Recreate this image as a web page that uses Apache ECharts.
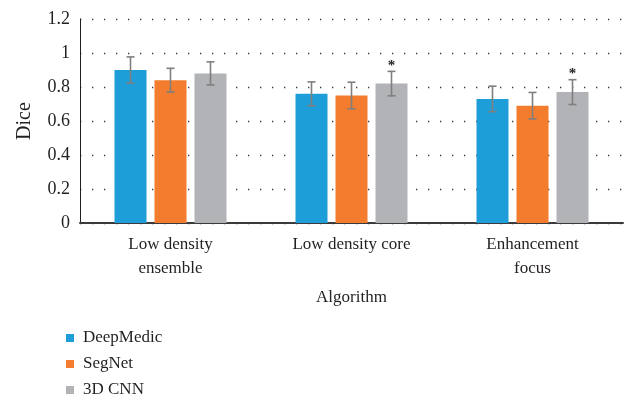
<!DOCTYPE html>
<html>
<head>
<meta charset="utf-8">
<script src="https://cdn.jsdelivr.net/npm/echarts@6/dist/echarts.min.js"></script>
<style>
  html, body { margin: 0; padding: 0; background: #fff; }
  #chart { width: 631px; height: 398px; }
</style>
</head>
<body>
<div id="chart"></div>
<script>
// Dice scores per region for each segmentation network
const categories = ['Low density\nensemble', 'Low density core', 'Enhancement\nfocus'];
const seriesNames = ['DeepMedic', 'SegNet', '3D CNN'];
const deepMedic = [0.90, 0.76, 0.73];
const segNet = [0.84, 0.75, 0.69];
const cnn3d = [0.88, 0.82, 0.77];
// standard deviations (error bar half-lengths)
const deepMedicSd = [0.077, 0.07, 0.075];
const segNetSd = [0.07, 0.078, 0.078];
const cnn3dSd = [0.068, 0.072, 0.073];
// significance markers drawn above the 3D CNN error bars
const cnn3dSig = ['', '*', '*'];
const yTicks = [0, 0.2, 0.4, 0.6, 0.8, 1, 1.2];

const colors = ['#1e9ed8', '#f37c2e', '#b2b3b6'];
const FONT = '"Liberation Serif", "DejaVu Serif", serif';
const TEXT = '#231f20';
const BAR_W = 32;
const BAR_GAP = 8;

const values = [deepMedic, segNet, cnn3d];
const sds = [deepMedicSd, segNetSd, cnn3dSd];

const chart = echarts.init(document.getElementById('chart'));

const barSeries = seriesNames.map((name, i) => ({
  name: name,
  type: 'bar',
  data: values[i],
  barWidth: BAR_W,
  barGap: (BAR_GAP / BAR_W * 100) + '%',
  itemStyle: { color: colors[i] },
  z: 2
}));

// error bars, offset to sit on the middle of each bar in the cluster
const errorSeries = seriesNames.map((name, i) => ({
  type: 'custom',
  name: name + ' sd',
  z: 5,
  silent: true,
  data: values[i].map((v, k) => [k, v - sds[i][k], v + sds[i][k], i === 2 ? cnn3dSig[k] : '']),
  encode: { x: 0, y: [1, 2] },
  renderItem: function (params, api) {
    const shift = (i - 1) * (BAR_W + BAR_GAP);
    const lo = api.coord([api.value(0), api.value(1)]);
    const hi = api.coord([api.value(0), api.value(2)]);
    const x = lo[0] + shift;
    const cap = 4;
    const style = { stroke: '#7f7f7f', lineWidth: 1.6 };
    const children = [
      { type: 'line', shape: { x1: x, y1: hi[1], x2: x, y2: lo[1] }, style: style },
      { type: 'line', shape: { x1: x - cap, y1: hi[1], x2: x + cap, y2: hi[1] }, style: style },
      { type: 'line', shape: { x1: x - cap, y1: lo[1], x2: x + cap, y2: lo[1] }, style: style }
    ];
    const mark = api.value(3);
    if (mark) {
      children.push({
        type: 'text',
        style: {
          text: mark, x: x, y: hi[1] + 2,
          align: 'center', verticalAlign: 'bottom',
          font: 'bold 15px ' + FONT, fill: '#222'
        }
      });
    }
    return { type: 'group', children: children };
  }
}));

chart.setOption({
  animation: false,
  backgroundColor: '#fff',
  textStyle: { fontFamily: FONT },
  grid: { left: 80, right: 8, top: 19, bottom: 175 },
  legend: {
    data: seriesNames,
    orient: 'vertical',
    left: 61,
    top: 324,
    height: 80,
    itemWidth: 8,
    itemHeight: 8,
    itemGap: 8,
    icon: 'rect',
    textStyle: { fontFamily: FONT, fontSize: 17, lineHeight: 18, color: TEXT, padding: [0, 0, 0, 4] }
  },
  xAxis: {
    type: 'category',
    data: categories,
    name: 'Algorithm',
    nameLocation: 'middle',
    nameGap: 66,
    nameTextStyle: { fontFamily: FONT, fontSize: 17, color: TEXT },
    axisLine: { lineStyle: { color: '#3a3a3a', width: 2 } },
    axisTick: { show: false },
    axisLabel: { fontFamily: FONT, fontSize: 17, color: TEXT, lineHeight: 24, margin: 10 }
  },
  yAxis: {
    type: 'value',
    min: yTicks[0],
    max: yTicks[yTicks.length - 1],
    interval: 0.2,
    name: 'Dice',
    nameLocation: 'middle',
    nameGap: 45,
    nameTextStyle: { fontFamily: FONT, fontSize: 20, color: TEXT },
    axisLine: { show: true, lineStyle: { color: TEXT, width: 1 } },
    axisTick: { show: false },
    axisLabel: {
      fontFamily: FONT, fontSize: 18, color: TEXT, margin: 10,
      formatter: v => String(Math.round(v * 10) / 10)
    },
    splitLine: { show: true, lineStyle: { color: '#3a3a3a', width: 1.3, type: [1.3, 10.7] } }
  },
  series: barSeries.concat(errorSeries)
});
</script>
</body>
</html>
